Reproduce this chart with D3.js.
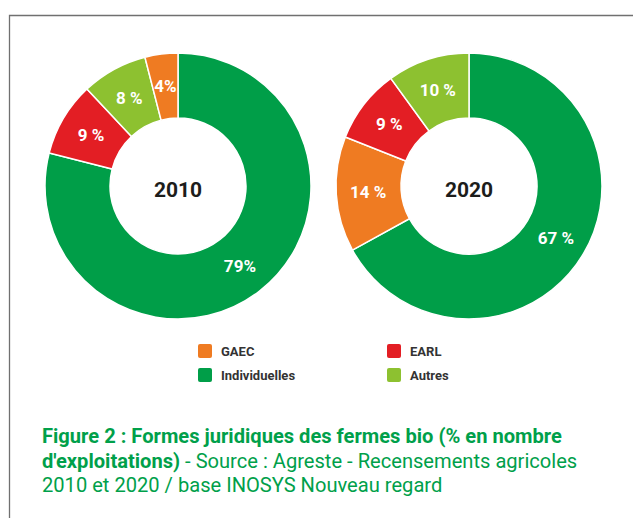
<!DOCTYPE html>
<html>
<head>
<meta charset="utf-8">
<script src="https://cdn.jsdelivr.net/npm/d3@7"></script>
<style>
  body { margin: 0; background: #fff; }
  svg { display: block; font-family: Roboto, "Noto Sans", sans-serif; }
</style>
</head>
<body>
<div id="chart"></div>
<script>
// categories and colours
var categories = ["GAEC", "EARL", "Individuelles", "Autres"];
var colors = ["#ef7b22", "#e31e24", "#009e48", "#8dc130"];
var years = ["2010", "2020"];

// slices in drawing order (clockwise from top)
var order2010 = ["Individuelles", "EARL", "Autres", "GAEC"];
var values2010 = [79, 9, 8, 4];
var labels2010 = ["79%", "9 %", "8 %", "4%"];

var order2020 = ["Individuelles", "GAEC", "EARL", "Autres"];
var values2020 = [67, 14, 9, 10];
var labels2020 = ["67 %", "14 %", "9 %", "10 %"];

var captionBold1 = "Figure 2 : Formes juridiques des fermes bio (% en nombre";
var captionBold2 = "d'exploitations)";
var captionText2 = " - Source : Agreste - Recensements agricoles";
var captionText3 = "2010 et 2020 / base INOSYS Nouveau regard";

var width = 633, height = 518;
var outerR = 133, innerR = 68, labelR = 101;

var svg = d3.select("#chart")
  .append("svg")
    .attr("width", width)
    .attr("height", height);

// frame
svg.append("path")
  .attr("d", "M9.5," + height + "V15.5H" + width)
  .attr("fill", "none")
  .attr("stroke", "#707070")
  .attr("stroke-width", 1.3);

var color = d3.scaleOrdinal().domain(categories).range(colors);
var cx = d3.scalePoint().domain(years).range([178, 469]);
var cy = 186;

var pie = d3.pie().sort(null).value(function(d) { return d.value; });
var arc = d3.arc().innerRadius(innerR).outerRadius(outerR);
var labelArc = d3.arc().innerRadius(labelR).outerRadius(labelR);

var donuts = [
  {year: "2010", order: order2010, values: values2010, labels: labels2010},
  {year: "2020", order: order2020, values: values2020, labels: labels2020}
];

donuts.forEach(function(dn) {
  var rows = dn.order.map(function(c, i) {
    return {cat: c, value: dn.values[i], label: dn.labels[i]};
  });
  var g = svg.append("g")
    .attr("transform", "translate(" + cx(dn.year) + "," + cy + ")");

  var arcs = pie(rows);
  g.selectAll("path")
    .data(arcs)
    .enter()
    .append("path")
      .attr("d", arc)
      .attr("fill", function(d) { return color(d.data.cat); })
      .attr("stroke", "#fff")
      .attr("stroke-width", 1.5);

  g.selectAll("text.lbl")
    .data(arcs)
    .enter()
    .append("text")
      .attr("class", "lbl")
      .attr("transform", function(d) { return "translate(" + labelArc.centroid(d) + ")"; })
      .attr("text-anchor", "middle")
      .attr("dy", "0.36em")
      .style("font-size", "17px")
      .style("font-weight", "bold")
      .attr("fill", "#fff")
      .text(function(d) { return d.data.label; });

  g.append("text")
    .attr("text-anchor", "middle")
    .attr("y", 11)
    .style("font-size", "21px")
    .style("font-weight", "bold")
    .attr("fill", "#1d1d1b")
    .text(dn.year);
});

// legend (2 x 2)
var legendX = [198, 387], legendY = [344, 368];
var legendOrder = ["GAEC", "EARL", "Individuelles", "Autres"];
legendOrder.forEach(function(c, i) {
  var lx = legendX[i % 2], ly = legendY[Math.floor(i / 2)];
  svg.append("rect")
    .attr("x", lx).attr("y", ly)
    .attr("width", 14).attr("height", 14)
    .attr("rx", 2)
    .attr("fill", color(c));
  svg.append("text")
    .attr("x", lx + 23)
    .attr("y", ly + 12)
    .style("font-size", "13px")
    .style("font-weight", "bold")
    .attr("fill", "#333")
    .text(c);
});

// caption
var capColor = "#00a04a";
var capX = 42;
var cap = svg.append("g").attr("fill", capColor).style("font-size", "17px");
var l1 = cap.append("text").attr("x", capX).attr("y", 443)
  .style("font-weight", "bold").text(captionBold1);
var l2 = cap.append("text").attr("x", capX).attr("y", 468);
l2.append("tspan").style("font-weight", "bold").text(captionBold2);
l2.append("tspan").text(captionText2);
var l3 = cap.append("text").attr("x", capX).attr("y", 492).text(captionText3);

// fit caption width to the picture
var w1 = l1.node().getComputedTextLength();
var fs = 17 * 520 / w1;
cap.style("font-size", fs + "px");
</script>
</body>
</html>
